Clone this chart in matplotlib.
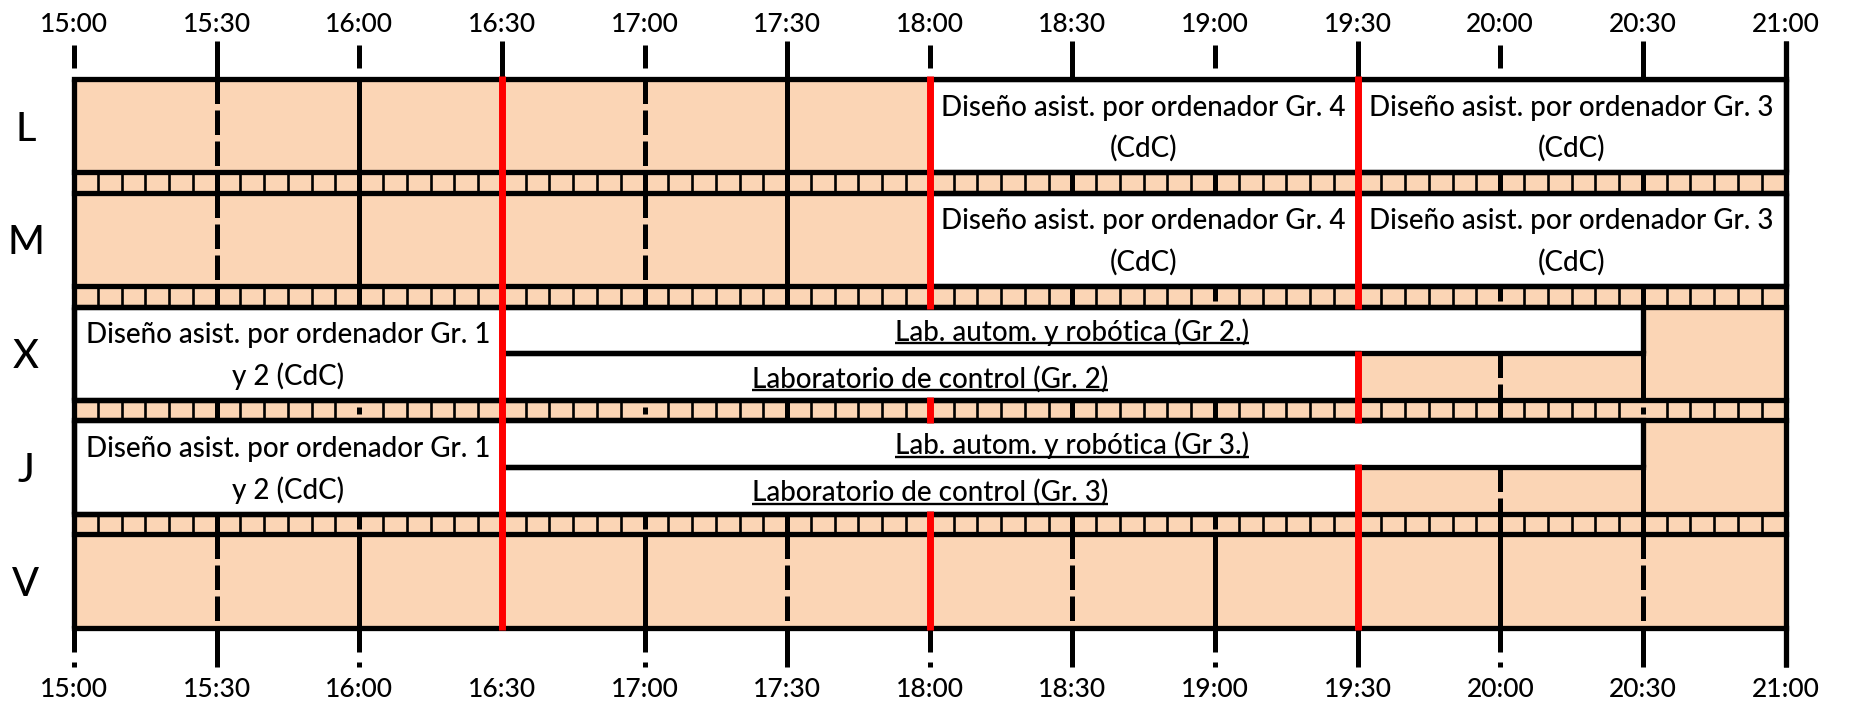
import matplotlib
matplotlib.use("Agg")
import matplotlib.pyplot as plt
from matplotlib.patches import Rectangle

plt.rcParams['font.family'] = ['Lato', 'DejaVu Sans']
plt.rcParams['font.weight'] = 'medium'

# ------------------------- data -------------------------
days = ["L", "M", "X", "J", "V"]
tick_hours = [15.0, 15.5, 16.0, 16.5, 17.0, 17.5, 18.0, 18.5, 19.0, 19.5, 20.0, 20.5, 21.0]
tick_labels = ["15:00", "15:30", "16:00", "16:30", "17:00", "17:30", "18:00",
               "18:30", "19:00", "19:30", "20:00", "20:30", "21:00"]
red_hours = [16.5, 18.0, 19.5]

class_day = ["L", "L", "M", "M", "X", "X", "X", "J", "J", "J"]
class_start = [18.0, 19.5, 18.0, 19.5, 15.0, 16.5, 16.5, 15.0, 16.5, 16.5]
class_end = [19.5, 21.0, 19.5, 21.0, 16.5, 20.5, 19.5, 16.5, 20.5, 19.5]
class_slot = ["full", "full", "full", "full", "full", "top", "bottom", "full", "top", "bottom"]
class_text = [
    "Diseño asist. por ordenador Gr. 4\n(CdC)",
    "Diseño asist. por ordenador Gr. 3\n(CdC)",
    "Diseño asist. por ordenador Gr. 4\n(CdC)",
    "Diseño asist. por ordenador Gr. 3\n(CdC)",
    "Diseño asist. por ordenador Gr. 1\ny 2 (CdC)",
    "Lab. autom. y robótica (Gr 2.)",
    "Laboratorio de control (Gr. 2)",
    "Diseño asist. por ordenador Gr. 1\ny 2 (CdC)",
    "Lab. autom. y robótica (Gr 3.)",
    "Laboratorio de control (Gr. 3)",
]
class_underline = [False, False, False, False, False, True, True, False, True, True]

# ------------------------- styling -------------------------
# style of the half-hour lines (15:30 ... 20:30) inside each day row: d dashed, s solid
row_line_style = {"L": "dssdsssssss", "M": "dssdsssssss", "X": "sssssssssds",
                  "J": "sssssssssds", "V": "dsssdsdsssd"}
# half-hour lines inside the separator strips: s solid, b stub from top, t small bit
strip_line_style = ["sssssssssss", "sssssssbsbs", "stststsstst", "sbsbsssbsss"]

PEACH = "#FBD5B5"
RED = "#FF0000"
ROW_H = 1.0
STRIP_H = 0.22
PITCH = ROW_H + STRIP_H
TOTAL = len(days) * ROW_H + (len(days) - 1) * STRIP_H

LW_GRID = 3.6
LW_BORDER = 3.8
LW_DIV = 1.9
LW_RED = 5.0
DASH = (0, (4.9, 1.3))

W, H = 1855, 701
fig = plt.figure(figsize=(W / 100, H / 100), dpi=100)
ax = fig.add_axes([74 / W, (H - 627.5) / H, (1785.5 - 74) / W, (627.5 - 79) / H])
x0, x1 = tick_hours[0], tick_hours[-1]
ax.set_xlim(x0, x1)
ax.set_ylim(TOTAL, 0)
for s in ax.spines.values():
    s.set_visible(False)
ax.patch.set_visible(False)

PX = (627.5 - 79) / TOTAL  # pixels per y unit

row_top = {d: i * PITCH for i, d in enumerate(days)}
split_days = {d for d, sl in zip(class_day, class_slot) if sl != "full"}

# background
ax.add_patch(Rectangle((x0, 0), x1 - x0, TOTAL, facecolor=PEACH, edgecolor='none', zorder=0))


def vline(x, ya, yb, color='k', lw=LW_GRID, ls='-', z=2):
    ax.plot([x, x], [ya, yb], color=color, lw=lw, linestyle=ls,
            solid_capstyle='butt', dash_capstyle='butt', zorder=z, clip_on=False)


inner = tick_hours[1:-1]
# vertical lines inside rows
for d in days:
    top = row_top[d]
    segs = [(top, top + ROW_H)] if d not in split_days else [(top, top + ROW_H / 2), (top + ROW_H / 2, top + ROW_H)]
    for t, st in zip(inner, row_line_style[d]):
        if t in red_hours:
            continue
        for ya, yb in segs:
            vline(t, ya, yb, ls=(DASH if st == 'd' else '-'))

# separator strips
for k in range(len(days) - 1):
    ya = k * PITCH + ROW_H
    yb = ya + STRIP_H
    for j in range(1, 72):
        if j % 6:
            vline(x0 + j / 12, ya, yb, lw=LW_DIV)
    for t, st in zip(inner, strip_line_style[k]):
        if t in red_hours:
            continue
        if st == 's':
            vline(t, ya, yb)
        elif st == 'b':
            vline(t, ya, ya + 0.75 * STRIP_H)
        else:
            vline(t, ya + 0.35 * STRIP_H, ya + 0.7 * STRIP_H)

# ticks above and below the grid
top_long = -38.3 / PX
top_d0, top_d1 = -34.0 / PX, -10.7 / PX
bot_long = TOTAL + 39.2 / PX
bot_d0, bot_d1, bot_d2 = TOTAL + 24.2 / PX, TOTAL + 34.2 / PX, TOTAL + 39.2 / PX
for i, t in enumerate(tick_hours):
    full_hour = (i % 2 == 0) and t != x1
    if full_hour:
        vline(t, top_d0, top_d1)
        vline(t, TOTAL, bot_d0)
        vline(t, bot_d1, bot_d2)
    else:
        vline(t, top_long, 0)
        if t not in (16.5,):
            vline(t, TOTAL, bot_long)

# white class boxes
boxes = []
for d, a, b, sl in zip(class_day, class_start, class_end, class_slot):
    top = row_top[d]
    if sl == "full":
        ya, yb = top, top + ROW_H
    elif sl == "top":
        ya, yb = top, top + ROW_H / 2
    else:
        ya, yb = top + ROW_H / 2, top + ROW_H
    boxes.append((a, b, ya, yb))
    ax.add_patch(Rectangle((a, ya), b - a, yb - ya, facecolor='white', edgecolor='none', zorder=3))
    for x in (a, b):
        vline(x, ya, yb, lw=LW_BORDER, z=4)
    for y in (ya, yb):
        ax.plot([a, b], [y, y], color='k', lw=LW_BORDER, solid_capstyle='projecting', zorder=4)

# horizontal borders
hys = [0, TOTAL]
for k in range(len(days) - 1):
    hys += [k * PITCH + ROW_H, (k + 1) * PITCH]
for y in hys:
    ax.plot([x0, x1], [y, y], color='k', lw=LW_BORDER, solid_capstyle='projecting', zorder=4, clip_on=False)
vline(x0, 0, TOTAL, lw=LW_BORDER, z=4)
vline(x1, top_long, bot_long, lw=LW_BORDER, z=4)

# red lines (hidden inside boxes that contain them)
eps = 2.7 / PX
for r in red_hours:
    hidden = sorted((ya + eps, yb - eps) for a, b, ya, yb in boxes if a < r < b)
    merged = []
    for h0, h1 in hidden:
        if merged and h0 - merged[-1][1] < 3 * eps:
            merged[-1] = (merged[-1][0], max(merged[-1][1], h1))
        else:
            merged.append((h0, h1))
    y = 0 - eps
    for h0, h1 in merged:
        vline(r, y, h0, color=RED, lw=LW_RED, z=5)
        y = h1
    vline(r, y, TOTAL + eps, color=RED, lw=LW_RED, z=5)

# texts
FS_BOX = 20
texts = []
for (a, b, ya, yb), txt, ul in zip(boxes, class_text, class_underline):
    lines = txt.split("\n")
    n = len(lines)
    cx = (a + b) / 2
    cy = (ya + yb) / 2
    for i, line in enumerate(lines):
        yb_line = cy + 0.115 + (i - (n - 1) / 2) * 0.445
        tt = ax.text(cx, yb_line, line, ha='center', va='baseline', fontsize=FS_BOX, zorder=6)
        if ul:
            texts.append((tt, yb_line))

# axis labels (times top/bottom, days left)
ax.set_xticks(tick_hours, tick_labels)
ax.tick_params(axis='x', length=0, pad=35.5, labelsize=19)
sec = ax.secondary_xaxis('top')
sec.set_xticks(tick_hours, tick_labels)
sec.tick_params(length=0, pad=30.0, labelsize=19)
for s in sec.spines.values():
    s.set_visible(False)
ax.set_yticks([row_top[d] + ROW_H / 2 for d in days], days)
ax.tick_params(axis='y', length=0, pad=34.6, labelsize=28.5)
for lab in ax.get_yticklabels():
    lab.set_horizontalalignment('center')

# underlines
fig.canvas.draw()
inv = ax.transData.inverted()
for tt, yb_line in texts:
    bb = tt.get_window_extent()
    (xa, _), (xb, _) = inv.transform([(bb.x0, bb.y0), (bb.x1, bb.y0)])
    yu = yb_line + 2.5 / PX
    ax.plot([xa, xb], [yu, yu], color='k', lw=1.7, solid_capstyle='butt', zorder=6)

fig.savefig("out.png", dpi=100)
